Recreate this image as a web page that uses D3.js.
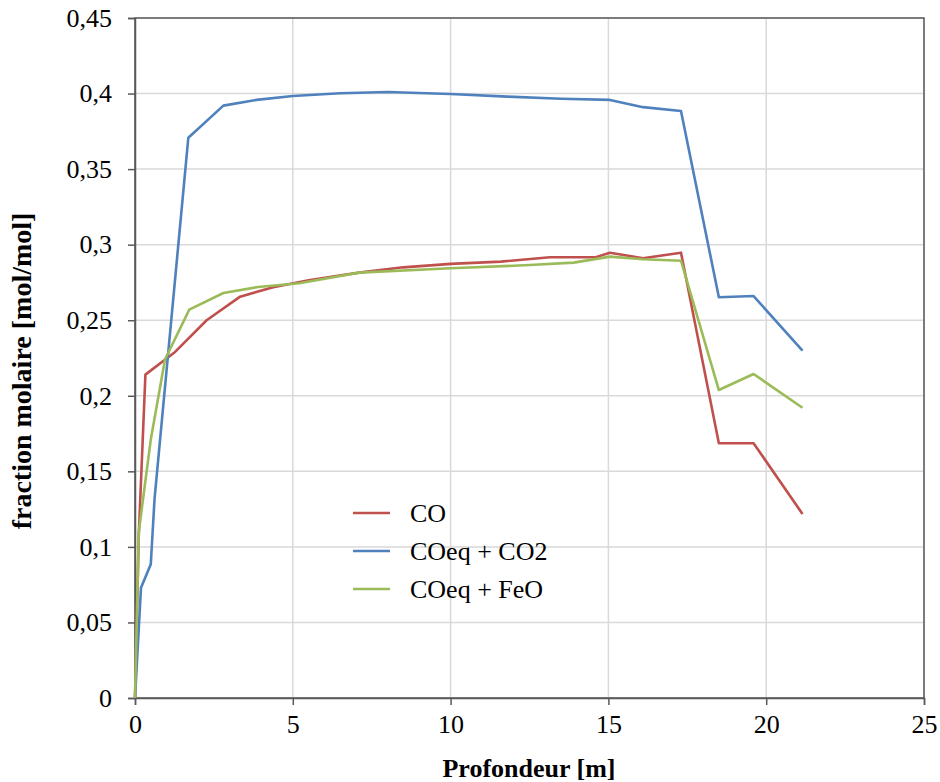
<!DOCTYPE html>
<html><head><meta charset="utf-8">
<script src="https://cdn.jsdelivr.net/npm/d3@7"></script>
<style>body{margin:0;background:#fff;}</style>
</head><body><svg id="c" width="940" height="782"></svg>
<script>
const xTicks = [0, 5, 10, 15, 20, 25];
const yTicks = [0, 0.05, 0.1, 0.15, 0.2, 0.25, 0.3, 0.35, 0.4, 0.45];
const seriesNames = ["CO", "COeq + CO2", "COeq + FeO"];
const seriesColors = ["#c0504d", "#4f81bd", "#9bbb59"];

const coX = [0, 0.12, 0.33, 1.27, 2.27, 3.33, 4.38, 5.5, 7.1, 8.5, 10.0, 11.6, 13.15, 14.6, 15.05, 16.1, 17.3, 18.5, 19.6, 21.15];
const coY = [0, 0.108, 0.214, 0.229, 0.250, 0.2656, 0.2718, 0.2765, 0.2815, 0.285, 0.2873, 0.2888, 0.2917, 0.2917, 0.2947, 0.291, 0.2947, 0.1686, 0.1686, 0.1218];

const co2X = [0, 0.19, 0.5, 0.62, 1.69, 2.8, 3.85, 5.0, 6.5, 8.0, 10.0, 11.8, 13.5, 15.05, 16.1, 17.3, 18.5, 19.6, 21.15];
const co2Y = [0, 0.073, 0.0885, 0.132, 0.3708, 0.392, 0.3958, 0.3984, 0.4002, 0.401, 0.3997, 0.398, 0.3966, 0.3958, 0.391, 0.3885, 0.2652, 0.266, 0.2299];

const feoX = [0, 0.12, 0.5, 0.95, 1.72, 2.8, 3.9, 5.2, 7.1, 10.0, 12.5, 13.9, 15.05, 16.1, 17.3, 18.5, 19.6, 21.15];
const feoY = [0, 0.11, 0.171, 0.224, 0.257, 0.268, 0.272, 0.2745, 0.2815, 0.2844, 0.2865, 0.2881, 0.2921, 0.2903, 0.2894, 0.2038, 0.2144, 0.1921];

const seriesX = [coX, co2X, feoX];
const seriesY = [coY, co2Y, feoY];

const FONT = "'Liberation Serif'";
const svg = d3.select("#c");
const L = 135, R = 924, T = 18, B = 698;
const x = d3.scaleLinear().domain([0, 25]).range([L, R]);
const y = d3.scaleLinear().domain([0, 0.45]).range([B, T]);
const fmt = d => String(+d.toFixed(2)).replace(".", ",");

// gridlines
svg.append("g").selectAll("line").data(xTicks).join("line")
  .attr("x1", d => x(d)).attr("x2", d => x(d)).attr("y1", T).attr("y2", B)
  .attr("stroke", "#d9d9d9").attr("stroke-width", 1.5);
svg.append("g").selectAll("line").data(yTicks).join("line")
  .attr("x1", L).attr("x2", R).attr("y1", d => y(d)).attr("y2", d => y(d))
  .attr("stroke", "#d9d9d9").attr("stroke-width", 1.5);

// border
svg.append("rect").attr("x", L).attr("y", T).attr("width", R - L).attr("height", B - T)
  .attr("fill", "none").attr("stroke", "#595959").attr("stroke-width", 1.5);

// axes
const xAxis = svg.append("g").attr("transform", `translate(0,${B})`)
  .call(d3.axisBottom(x).tickValues(xTicks).tickFormat(fmt).tickSize(7).tickPadding(10));
const yAxis = svg.append("g").attr("transform", `translate(${L},0)`)
  .call(d3.axisLeft(y).tickValues(yTicks).tickFormat(fmt).tickSize(7).tickPadding(16));
[xAxis, yAxis].forEach(a => {
  a.attr("font-family", null).attr("font-size", null);
  a.select(".domain").attr("stroke", "#595959").attr("stroke-width", 1.5);
  a.selectAll(".tick line").attr("stroke", "#595959").attr("stroke-width", 1.5);
  a.selectAll("text").style("font-family", FONT).style("font-size", "26px").attr("fill", "#000");
});

// lines
const line = d3.line().x(d => x(d[0])).y(d => y(d[1]));
seriesNames.forEach((n, i) => {
  const pts = seriesX[i].map((v, j) => [v, seriesY[i][j]]);
  svg.append("path").datum(pts).attr("d", line).attr("fill", "none")
    .attr("stroke", seriesColors[i]).attr("stroke-width", 2.6).attr("stroke-linejoin", "round");
});

// legend
const legY = [513, 551, 589];
seriesNames.forEach((n, i) => {
  svg.append("line").attr("x1", 353).attr("x2", 390).attr("y1", legY[i]).attr("y2", legY[i])
    .attr("stroke", seriesColors[i]).attr("stroke-width", 2.6);
  svg.append("text").attr("x", 410).attr("y", legY[i]).attr("dy", "0.35em")
    .style("font-family", FONT).style("font-size", "26px").attr("fill", "#000").text(n);
});

// axis titles
svg.append("text").attr("x", 529).attr("y", 777).attr("text-anchor", "middle")
  .style("font-family", FONT).style("font-size", "26px").attr("font-weight", "bold").attr("fill", "#000").text("Profondeur [m]");
svg.append("text").attr("transform", `translate(31,371) rotate(-90)`)
  .attr("text-anchor", "middle").style("font-family", FONT).style("font-size", "28px").attr("font-weight", "bold").attr("fill", "#000")
  .text("fraction molaire [mol/mol]");
</script></body></html>
